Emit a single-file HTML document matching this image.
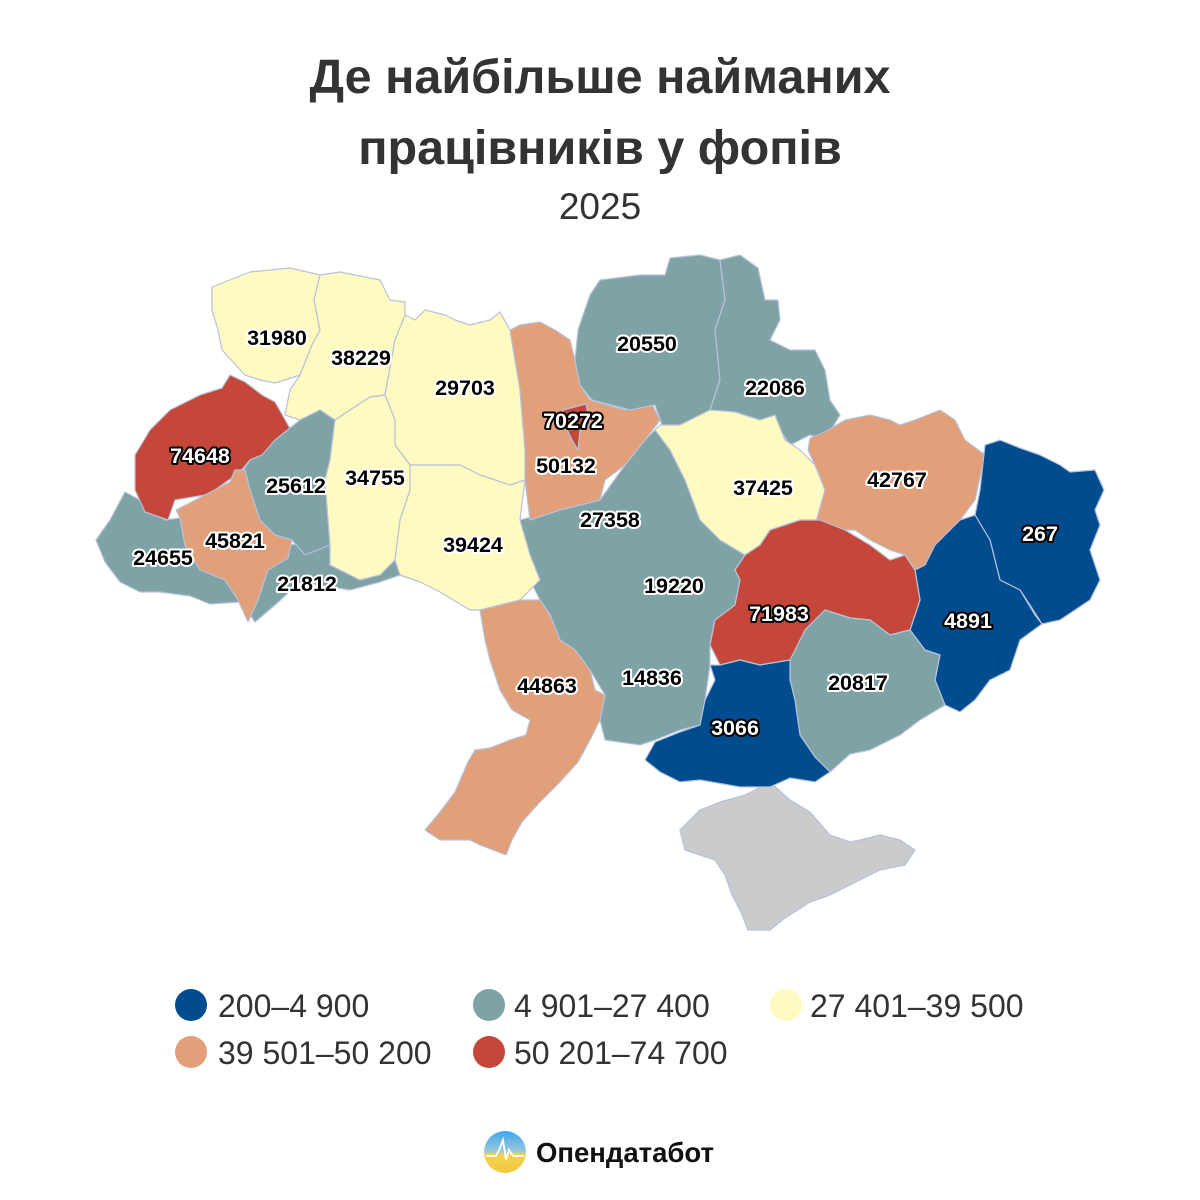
<!DOCTYPE html>
<html><head><meta charset="utf-8"><style>
html,body{margin:0;padding:0;background:#fff;}
svg{display:block;}
.t{font-family:"Liberation Sans",sans-serif;}
.lb{font-family:"Liberation Sans",sans-serif;font-weight:bold;font-size:21.5px;text-anchor:middle;paint-order:stroke;stroke-linejoin:round;}
.bk{fill:#000;stroke:#fff;stroke-width:4px;}
.wh{fill:#fff;stroke:#000;stroke-width:4px;}
.r{stroke:#b7c2dc;stroke-width:1.2;stroke-linejoin:round;}
.lg{font-family:"Liberation Sans",sans-serif;font-size:32px;fill:#333;}
</style></head><body>
<svg width="1200" height="1200" viewBox="0 0 1200 1200" xmlns="http://www.w3.org/2000/svg">
<rect width="1200" height="1200" fill="#fff"/>
<text class="t" x="600" y="93" text-anchor="middle" font-size="48.5" font-weight="bold" fill="#333">Де найбільше найманих</text>
<text class="t" x="600" y="164" text-anchor="middle" font-size="48.5" font-weight="bold" fill="#333">працівників у фопів</text>
<text class="t" x="600" y="219" text-anchor="middle" font-size="37" fill="#333">2025</text>

<!-- base central teal -->
<polygon class="r" fill="#7fa3a5" points="520,520 560,510 600,500 625,465 645,440 660,425 670,450 685,480 700,520 720,540 745,555 735,570 740,580 735,605 715,620 710,645 710,665 705,700 700,725 680,730 655,740 640,745 605,740 600,720 605,695 590,670 575,650 560,640 550,615 540,600 530,580 540,580 530,555 520,540"/>
<!-- Crimea -->
<polygon class="r" fill="#cbcbcb" points="680,830 700,810 720,802 745,795 755,790 770,782 790,800 810,812 830,835 850,842 860,840 880,835 900,840 915,850 905,865 880,870 860,880 830,895 810,902 785,918 770,930 748,930 740,910 732,895 725,875 715,860 700,855 685,850"/>
<!-- Volyn -->
<polygon class="r" fill="#fffac0" points="212,287 250,272 290,268 320,275 314,300 320,330 312,345 300,375 285,380 275,383 260,380 245,375 222,350 218,330 212,310"/>
<!-- Rivne -->
<polygon class="r" fill="#fffac0" points="320,275 340,272 380,280 390,300 405,302 405,320 395,340 385,395 370,397 350,410 335,420 320,410 300,420 285,415 290,390 300,375 312,345 320,330 314,300"/>
<!-- Zhytomyr -->
<polygon class="r" fill="#fffac0" points="405,315 415,320 425,310 445,315 455,320 470,325 490,320 500,312 510,330 520,390 525,450 530,480 510,485 480,475 460,465 410,465 395,445 395,420 385,395 395,340"/>
<!-- Chernivtsi -->
<polygon class="r" fill="#7fa3a5" points="240,600 255,560 290,545 330,540 345,560 380,565 395,555 400,575 380,582 350,590 300,582 275,605 255,622"/>
<!-- Zakarpattia -->
<polygon class="r" fill="#7fa3a5" points="125,492 140,500 165,520 180,518 185,545 200,570 225,580 240,602 210,604 190,596 160,592 140,592 120,582 105,562 96,540 110,520"/>
<!-- Lviv -->
<polygon class="r" fill="#c5473a" points="230,375 245,382 262,395 275,402 292,432 280,445 262,455 250,460 240,472 215,490 205,495 175,500 168,520 145,512 135,490 135,455 150,430 170,410 200,395 222,388"/>
<!-- Ternopil -->
<polygon class="r" fill="#7fa3a5" points="275,440 300,420 320,410 335,420 330,460 325,480 330,545 305,555 292,540 275,535 260,520 250,490 240,475 250,460 262,455"/>
<!-- Ivano-Frankivsk -->
<polygon class="r" fill="#e19f7a" points="235,470 245,470 250,490 260,520 275,535 292,540 288,558 268,570 258,600 248,622 238,600 225,580 200,570 185,545 180,518 176,510 205,495 230,482"/>
<!-- Khmelnytskyi -->
<polygon class="r" fill="#fffac0" points="335,420 350,410 370,397 385,395 395,420 395,445 410,465 410,490 400,520 395,560 380,575 360,580 340,570 330,565 330,545 325,480 330,460"/>
<!-- Vinnytsia -->
<polygon class="r" fill="#fffac0" points="410,465 460,465 480,475 510,485 525,480 520,520 530,555 540,580 520,600 495,610 470,610 440,592 420,582 400,575 395,560 400,520 410,490"/>
<!-- Kyiv oblast -->
<polygon class="r" fill="#e19f7a" points="510,330 520,325 540,322 555,330 570,340 575,360 580,385 590,400 625,410 650,400 660,420 645,440 625,465 605,480 600,500 580,505 560,510 530,520 525,480 525,450 520,390"/>
<polygon class="r" fill="#c5473a" points="563,410 586,404 590,424 580,430 578,450 572,440 565,425"/>
<!-- Chernihiv -->
<polygon class="r" fill="#7fa3a5" points="580,385 575,360 578,330 590,295 600,280 640,275 665,275 670,258 700,255 720,260 725,300 715,330 720,380 710,410 680,425 662,425 655,405 630,410 592,400"/>
<!-- Sumy -->
<polygon class="r" fill="#7fa3a5" points="720,260 740,255 758,268 765,300 778,300 780,320 770,340 790,350 815,350 825,370 830,400 840,415 825,440 810,435 790,445 780,430 760,420 735,412 710,410 720,380 715,330 725,300"/>
<!-- Poltava -->
<polygon class="r" fill="#fffac0" points="660,425 680,425 710,410 735,412 760,420 775,415 785,440 800,450 815,465 825,490 820,520 800,520 770,530 760,545 745,555 720,540 700,520 685,480 670,450 655,430"/>
<!-- Kharkiv -->
<polygon class="r" fill="#e19f7a" points="810,438 825,432 845,420 870,415 890,420 900,425 915,420 940,410 955,420 965,440 985,455 975,500 960,520 935,545 925,565 915,570 905,555 890,550 870,540 855,530 835,530 815,525 825,490 815,465 808,450"/>
<!-- Luhansk -->
<polygon class="r" fill="#004c8e" points="985,445 1000,440 1020,448 1040,455 1060,465 1070,472 1095,470 1104,490 1095,510 1100,525 1090,550 1100,580 1090,600 1060,620 1042,624 1030,605 1020,590 1000,580 990,540 975,515 980,490"/>
<!-- Donetsk -->
<polygon class="r" fill="#004c8e" points="960,520 975,515 990,540 1000,580 1020,590 1035,615 1042,624 1020,640 1010,670 990,680 975,700 960,712 945,705 935,680 940,655 925,650 910,630 920,600 915,570 925,565 935,545"/>
<!-- Dnipro -->
<polygon class="r" fill="#c5473a" points="745,555 760,545 770,530 800,520 820,520 845,530 870,545 890,560 905,555 915,570 920,600 910,630 890,635 870,620 850,618 825,610 805,630 805,655 790,660 760,665 740,660 720,665 710,645 715,620 735,605 740,580 735,570"/>
<!-- Zaporizhzhia -->
<polygon class="r" fill="#7fa3a5" points="805,630 825,610 850,618 870,620 890,635 910,630 925,650 940,655 935,680 945,705 920,720 900,735 870,750 850,754 830,772 815,757 800,735 795,700 790,680 790,660"/>
<!-- Kherson -->
<polygon class="r" fill="#004c8e" points="710,665 720,665 740,660 760,665 790,660 790,680 795,700 800,735 815,757 830,772 815,782 790,778 770,787 740,787 700,780 680,782 660,772 645,760 655,742 680,732 700,725 705,700 715,680"/>
<!-- Odesa -->
<polygon class="r" fill="#e19f7a" points="480,610 500,605 520,600 540,600 550,615 560,640 575,650 590,670 595,690 605,695 600,720 590,740 578,762 560,782 540,802 522,822 512,840 506,855 480,845 470,840 440,840 425,830 440,812 455,792 468,762 475,750 490,748 510,740 526,735 530,720 512,710 500,690 490,660 485,640"/>

<text class="lb bk" x="277" y="345">31980</text>
<text class="lb bk" x="361" y="365">38229</text>
<text class="lb bk" x="465" y="395">29703</text>
<text class="lb wh" x="200" y="463">74648</text>
<text class="lb bk" x="296" y="493">25612</text>
<text class="lb bk" x="375" y="485">34755</text>
<text class="lb bk" x="235" y="548">45821</text>
<text class="lb bk" x="163" y="565">24655</text>
<text class="lb bk" x="307" y="591">21812</text>
<text class="lb bk" x="473" y="552">39424</text>
<text class="lb wh" x="573" y="428">70272</text>
<text class="lb bk" x="566" y="473">50132</text>
<text class="lb bk" x="647" y="351">20550</text>
<text class="lb bk" x="775" y="395">22086</text>
<text class="lb bk" x="610" y="527">27358</text>
<text class="lb bk" x="763" y="495">37425</text>
<text class="lb bk" x="897" y="487">42767</text>
<text class="lb wh" x="1040" y="541">267</text>
<text class="lb bk" x="674" y="593">19220</text>
<text class="lb wh" x="779" y="621">71983</text>
<text class="lb wh" x="968" y="628">4891</text>
<text class="lb bk" x="547" y="693">44863</text>
<text class="lb bk" x="652" y="685">14836</text>
<text class="lb bk" x="858" y="690">20817</text>
<text class="lb wh" x="735" y="735">3066</text>

<circle cx="191" cy="1005" r="16" fill="#004c8e"/>
<text class="lg" x="218" y="1017">200–4 900</text>
<circle cx="489" cy="1005" r="16" fill="#7fa3a5"/>
<text class="lg" x="514" y="1017">4 901–27 400</text>
<circle cx="786" cy="1005" r="16" fill="#fffac0"/>
<text class="lg" x="810" y="1017">27 401–39 500</text>
<circle cx="191" cy="1052" r="16" fill="#e19f7a"/>
<text class="lg" x="218" y="1064">39 501–50 200</text>
<circle cx="489" cy="1052" r="16" fill="#c5473a"/>
<text class="lg" x="514" y="1064">50 201–74 700</text>

<defs><linearGradient id="lgd" x1="0" y1="0" x2="0" y2="1"><stop offset="0" stop-color="#3fa7f0"/><stop offset="0.5" stop-color="#9cc9d8"/><stop offset="0.55" stop-color="#f2d24a"/><stop offset="1" stop-color="#f4c842"/></linearGradient></defs>
<circle cx="505" cy="1152" r="21" fill="url(#lgd)"/>
<polyline points="486,1156 496,1156 500,1148 503,1140 506,1160 509,1150 513,1156 524,1156" fill="none" stroke="#fff" stroke-width="1.8"/>
<text class="t" x="536" y="1162" font-size="27.5" font-weight="bold" fill="#111">Опендатабот</text>
</svg>
</body></html>
